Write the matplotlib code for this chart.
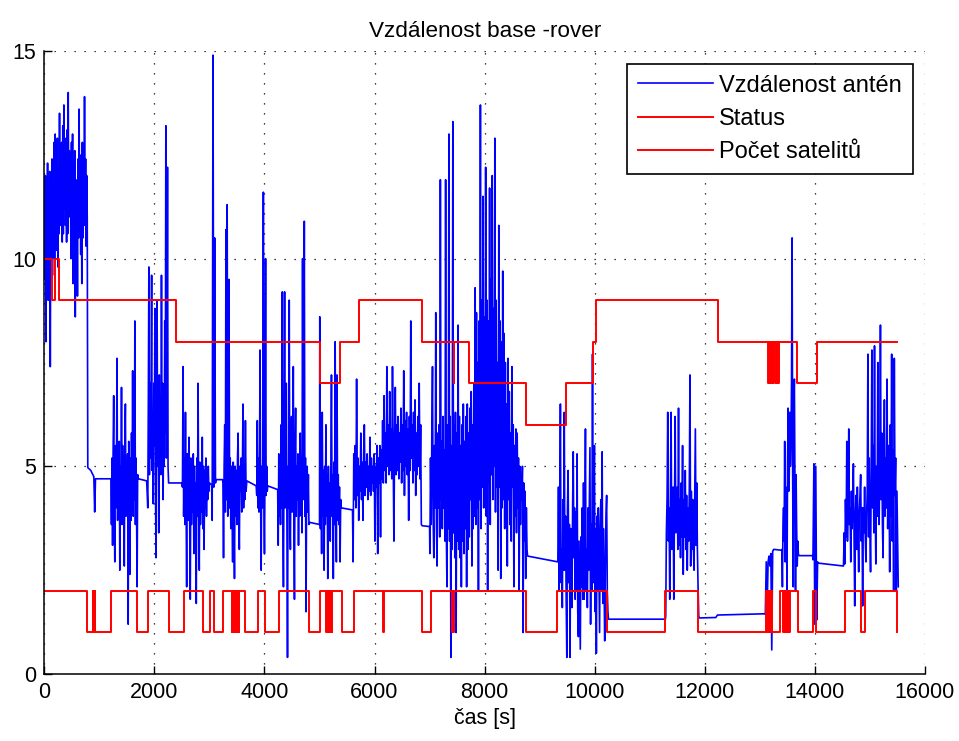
import numpy as np
import matplotlib
matplotlib.use("Agg")
import matplotlib.pyplot as plt

# ---------------------------------------------------------------------------
# Status (2 = fix, 1 = float): value holds from each time until the next one
status_t = [0, 781, 880, 886, 918, 925, 1212, 1685, 1876, 2270,
            2534, 2890, 3014, 3075, 3255, 3410, 3418, 3440, 3448, 3462,
            3470, 3500, 3508, 3530, 3538, 3655, 3879, 4018, 4255, 4806,
            5000, 5121, 5128, 5150, 5158, 5170, 5178, 5195, 5203, 5225,
            5233, 5412, 5618, 6160, 6168, 6867, 7030, 7412, 7418, 7430,
            7436, 8745, 9321, 10224, 11285, 11879, 13121, 13129, 13137, 13145,
            13153, 13161, 13169, 13177, 13185, 13193, 13201, 13209, 13217, 13225,
            13364, 13424, 13432, 13440, 13448, 13456, 13464, 13472, 13480, 13488,
            13496, 13504, 13512, 13520, 13528, 13536, 13544, 13697, 13970, 14012,
            14545, 14830, 14909, 15497, 15500]
status_v = [2, 1, 2, 1, 2, 1, 2, 1, 2, 1,
            2, 1, 2, 1, 2, 1, 2, 1, 2, 1,
            2, 1, 2, 1, 2, 1, 2, 1, 2, 1,
            2, 1, 2, 1, 2, 1, 2, 1, 2, 1,
            2, 1, 2, 1, 2, 1, 2, 1, 2, 1,
            2, 1, 2, 1, 2, 1, 2, 1, 2, 1,
            2, 1, 2, 1, 2, 1, 2, 1, 2, 1,
            2, 1, 2, 1, 2, 1, 2, 1, 2, 1,
            2, 1, 2, 1, 2, 1, 2, 1, 2, 1,
            2, 1, 2, 1, 1]

# Number of satellites, same step convention
sat_t = [0, 135, 197, 270, 2398, 5000, 5364, 5715, 6867, 7442,
         7450, 7715, 8745, 9485, 9964, 10024, 12236, 13152, 13160, 13168,
         13176, 13184, 13192, 13200, 13208, 13216, 13224, 13232, 13240, 13248,
         13256, 13290, 13298, 13306, 13314, 13322, 13330, 13338, 13346, 13679,
         14030, 15500]
sat_v = [10, 9, 10, 9, 8, 7, 8, 9, 8, 7,
         8, 7, 6, 7, 8, 9, 8, 7, 8, 7,
         8, 7, 8, 7, 8, 7, 8, 7, 8, 7,
         8, 7, 8, 7, 8, 7, 8, 7, 8, 7,
         8, 8]

# Antenna distance: noisy stretches (~10 s apart)
burst_0000 = [11.5, 9.5, 12.0, 8.0, 11.8, 10.2, 12.3, 9.0, 11.6, 10.0,
              12.1, 7.4, 11.5, 9.9, 12.4, 9.6, 12.0, 10.3, 12.8, 10.0,
              13.0, 10.5, 12.4, 10.2, 12.9, 9.8, 12.2, 10.6, 13.5, 10.8,
              12.5, 11.0, 12.8, 10.4, 13.2, 10.6, 13.7, 11.2, 12.9, 10.8,
              12.6, 10.4, 13.1, 10.6, 14.0, 11.0, 12.6, 11.5, 12.4, 10.0,
              12.8, 10.6, 13.0, 9.4, 12.3, 10.2, 12.6, 8.6, 11.9, 10.0,
              11.8, 9.1, 12.4, 10.5, 13.6, 10.8, 12.0, 10.1, 12.5, 9.4,
              12.8, 10.5, 12.2, 10.8, 13.9, 11.0, 12.4, 10.3, 12.0, 11.0]
burst_1210 = [4.7, 3.6, 5.2, 3.1, 5.4, 6.7, 3.8, 2.7, 5.5, 4.0,
              5.2, 7.6, 3.7, 5.3, 4.2, 5.6, 2.5, 5.0, 3.8, 6.9,
              3.6, 5.5, 4.1, 5.2, 2.6, 5.6, 6.5, 3.8, 5.1, 4.0,
              5.3, 1.2, 5.6, 3.9, 2.4, 5.2, 3.7, 5.8, 4.0, 7.3,
              3.8, 5.4, 4.2, 8.5, 3.6, 5.2, 4.0, 2.1, 4.8]
burst_1880 = [4.0, 6.5, 9.8, 4.8, 7.0, 5.2, 6.8, 9.6, 4.9, 6.2,
              4.1, 7.0, 5.5, 8.8, 4.6, 2.8, 6.8, 9.0, 5.0, 6.5,
              3.4, 7.2, 5.3, 6.6, 4.8, 9.6, 5.5, 7.0, 4.2, 6.4,
              5.0, 8.5, 5.8, 13.2, 5.2, 7.0, 12.2, 5.0, 4.6]
burst_2510 = [4.5, 7.4, 3.8, 5.2, 3.6, 6.3, 4.0, 2.1, 5.3, 3.7,
              5.0, 5.7, 3.8, 1.8, 5.2, 3.6, 4.9, 3.9, 5.3, 2.9,
              5.0, 3.7, 4.6, 1.7, 5.2, 3.8, 7.0, 4.0, 2.5, 5.1,
              3.6, 4.8, 3.9, 5.7, 3.5, 5.0, 3.0, 4.9, 4.0, 5.2,
              3.8, 4.9, 4.2, 5.0, 4.4]
burst_3245 = [4.6, 2.8, 5.0, 6.0, 3.9, 10.7, 4.2, 11.3, 3.8, 5.0,
              9.5, 4.0, 5.2, 3.5, 5.0, 4.0, 2.7, 5.1, 3.9, 2.3,
              5.0, 3.8, 4.9, 3.6, 5.2, 5.8, 4.0, 3.0, 5.0, 4.4,
              5.2, 3.9, 4.8, 6.5, 4.0, 5.0, 4.2, 6.1, 4.4]
burst_3860 = [4.3, 6.1, 4.0, 5.2, 3.9, 5.0, 7.8, 4.2, 2.5, 5.0,
              4.0, 5.2, 11.6, 4.2, 2.9, 5.0, 10.0, 4.3, 5.0, 4.4]
burst_4250 = [3.1, 5.3, 3.8, 5.0, 3.6, 6.0, 4.0, 9.2, 3.8, 2.1,
              5.2, 9.2, 4.0, 5.5, 7.0, 3.6, 0.4, 5.0, 4.0, 9.0,
              3.8, 3.0, 5.2, 6.2, 3.9, 5.0, 7.4, 3.6, 1.8, 5.2,
              6.4, 3.8, 5.0, 4.2, 5.3, 3.1, 5.1, 3.8, 5.8, 4.0,
              5.2, 3.4, 10.0, 4.2, 5.0, 10.9, 3.8, 5.2, 1.5, 4.6,
              5.0, 3.9, 4.8, 3.6]
burst_5005 = [8.6, 3.5, 5.0, 2.9, 6.3, 3.8, 4.9, 2.5, 5.0, 3.6,
              6.0, 3.8, 4.8, 2.3, 5.0, 3.6, 4.6, 3.2, 5.0, 7.2,
              3.8, 4.8, 2.3, 5.1, 3.6, 8.0, 4.0, 2.7, 7.2, 3.7,
              4.8, 3.6, 4.5, 2.7, 4.2]
burst_5610 = [2.7, 5.3, 4.2, 5.5, 4.0, 7.1, 4.3, 5.2, 3.7, 5.0,
              4.4, 5.8, 4.2, 5.1, 3.7, 5.3, 6.0, 4.3, 5.1, 4.5,
              5.3, 4.2, 5.0, 4.4, 5.7, 4.3, 5.2, 4.6, 5.0, 4.4,
              5.3, 3.2, 5.0, 4.5, 5.5, 2.9, 5.2, 4.6, 5.5, 3.3,
              5.4, 4.7, 6.1, 4.6, 6.7, 4.9, 5.8, 4.6, 7.4, 5.0,
              6.0, 4.8, 6.8, 4.9, 5.9, 4.7, 7.4, 5.2, 3.2, 5.6,
              6.9, 4.8, 6.0, 4.9, 6.2, 4.7, 5.8, 5.1, 6.4, 4.6,
              6.0, 4.9, 7.3, 4.3, 6.1, 5.0, 6.3, 4.8, 5.9, 3.7,
              6.2, 4.9, 8.5, 5.2, 6.0, 4.6, 6.3, 4.9, 6.6, 4.3,
              5.8, 4.8, 6.2, 5.0, 7.0, 4.7, 6.0, 3.6]
burst_7005 = [2.9, 5.2, 3.6, 5.8, 7.4, 3.8, 2.8, 5.5, 4.0, 8.7,
              3.6, 2.6, 5.8, 4.0, 6.0, 3.3, 11.9, 4.2, 5.6, 3.5,
              6.2, 4.0, 5.4, 3.2, 11.9, 3.6, 2.1, 6.0, 3.5, 13.0,
              3.2, 6.2, 0.4, 5.5, 3.0, 13.3, 3.4, 6.0, 2.8, 6.3,
              1.0, 5.8, 3.2, 8.4, 3.0, 6.2, 2.8, 5.5, 2.1, 6.0,
              3.2, 6.5, 2.9, 5.6, 3.5, 6.2, 2.1, 6.5, 3.0, 5.8,
              3.3, 6.4, 4.2, 6.8, 2.6, 6.0, 3.5, 7.0, 3.8, 9.3,
              3.6, 8.7, 4.0, 7.5, 2.0, 8.5, 4.2, 13.7, 3.5, 9.0,
              4.5, 11.5, 4.0, 8.6, 4.4, 12.2, 3.8, 9.0, 2.0, 8.5,
              4.6, 11.7, 3.6, 9.5, 4.8, 12.0, 4.2, 8.8, 5.0, 12.9,
              3.9, 9.0, 4.5, 7.5, 2.5, 10.8, 4.5, 8.5, 2.3, 8.0,
              4.0, 9.7, 4.2, 8.2, 3.5, 7.5, 4.0, 6.5, 2.6, 7.6,
              4.2, 6.8, 3.6, 5.8, 3.2, 7.4, 4.5, 6.0, 2.1, 5.5,
              3.8, 5.9, 3.4, 5.8, 4.0, 5.2, 2.0, 5.0, 3.6, 4.8,
              4.2, 5.0, 1.0, 4.6, 3.2, 4.4, 2.3, 4.0, 3.0]
burst_9330 = [2.7, 4.5, 2.0, 3.8, 6.5, 2.2, 3.0, 1.6, 4.2, 2.5,
              6.3, 2.5, 3.8, 1.8, 0.4, 4.0, 4.9, 2.2, 3.6, 0.4,
              3.5, 2.0, 1.6, 4.0, 5.35, 2.8, 4.0, 1.8, 3.9, 2.0,
              5.3, 1.5, 0.9, 3.2, 2.0, 0.6, 3.3, 2.1, 4.0, 1.8,
              4.6, 1.8, 3.6, 5.9, 2.0, 3.0, 1.6, 4.0, 2.5, 3.9,
              5.45, 1.2, 3.6, 2.0, 7.7, 2.2, 4.2, 5.5, 1.5, 3.5,
              0.5, 3.8, 2.0, 4.0, 2.5, 1.0, 3.6, 4.2, 2.0, 5.35,
              1.7, 3.5, 2.2, 0.8, 2.6, 3.8, 4.3, 2.0, 1.5]
burst_11290 = [1.4, 3.4, 4.2, 6.3, 3.2, 4.0, 1.8, 4.4, 6.3, 3.0,
               3.2, 4.5, 1.8, 4.0, 6.2, 3.4, 3.6, 4.5, 3.0, 6.4,
               3.1, 4.2, 2.8, 4.6, 3.3, 5.5, 2.4, 4.2, 3.3, 4.9,
               3.0, 4.3, 2.5, 4.0, 3.2, 4.4, 7.2, 2.6, 4.4, 3.0,
               4.2, 3.1, 2.5, 4.3, 5.9, 3.1, 4.6, 3.0, 2.1, 1.4]
burst_13100 = [1.44, 2.7, 1.6, 2.7, 2.84, 2.6, 2.9, 0.58, 2.95, 3.0]
burst_13400 = [3.0, 2.1, 3.6, 4.0, 3.2, 5.6, 2.7, 4.5, 3.8, 2.0,
               5.0, 6.4, 4.4, 4.8, 6.3, 5.0, 5.5, 7.0, 10.5, 4.8,
               2.1, 6.5, 7.1, 4.5, 2.0, 4.8, 3.5, 2.6, 3.2, 2.9]
burst_13965 = [2.75, 5.06, 1.2, 5.0, 1.3, 2.7]
burst_14520 = [2.6, 3.4, 2.65, 4.2, 3.3, 5.6, 3.2, 4.3, 5.9, 3.6,
               4.0, 2.7, 4.4, 3.5, 4.2, 5.06, 3.4, 1.64, 3.8, 4.3,
               3.0, 4.5, 3.4, 2.46, 3.9, 4.3, 4.8, 3.2, 4.0, 1.64,
               4.0, 3.4, 4.5, 3.3, 2.7, 3.8, 4.4, 7.7, 3.3, 5.2,
               3.6, 2.46, 4.8, 7.8, 4.0, 5.5, 3.4, 7.9, 4.2, 2.65,
               5.0, 3.8, 7.5, 4.0, 3.6, 5.2, 8.4, 4.2, 5.8, 3.6,
               2.8, 5.0, 6.6, 3.8, 5.2, 4.0, 7.1, 3.5, 5.5, 4.8,
               2.46, 6.0, 3.8, 7.7, 3.2, 5.4, 2.0, 7.6, 4.3, 5.2,
               2.0, 4.4, 3.2, 2.1]

# (start s, end s, values) in time order; short lists are the quiet holds
dist_pieces = [
    (0, 780, burst_0000),
    (790, 900, [4.97, 4.9, 4.75]),
    (915, 930, [3.9, 4.7]),
    (940, 1200, [4.7, 4.7]),
    (1210, 1696, burst_1210),
    (1710, 1860, [4.7, 4.65]),
    (1880, 2258, burst_1880),
    (2275, 2500, [4.6, 4.6]),
    (2510, 2990, burst_2510),
    (3000, 3040, [4.6, 4.55]),
    (3050, 3110, [3.7, 14.9, 4.5, 10.5, 4.6]),
    (3120, 3240, [4.68, 4.68]),
    (3245, 3665, burst_3245),
    (3680, 3850, [4.65, 4.53]),
    (3860, 4050, burst_3860),
    (4060, 4240, [4.53, 4.44]),
    (4250, 4808, burst_4250),
    (4825, 5000, [3.65, 3.6]),
    (5005, 5385, burst_5005),
    (5395, 5600, [4.0, 3.95]),
    (5610, 6850, burst_5610),
    (6865, 7000, [3.57, 3.55]),
    (7005, 8770, burst_7005),
    (8780, 9320, [2.84, 2.7]),
    (9330, 10240, burst_9330),
    (10250, 11285, [1.32, 1.32]),
    (11290, 11890, burst_11290),
    (11900, 12200, [1.35, 1.36]),
    (12230, 13090, [1.42, 1.45]),
    (13100, 13250, burst_13100),
    (13260, 13390, [3.0, 2.98]),
    (13400, 13700, burst_13400),
    (13710, 13960, [2.85, 2.85]),
    (13965, 14050, burst_13965),
    (14060, 14515, [2.67, 2.6]),
    (14520, 15515, burst_14520),
]

dist_t = np.concatenate([np.linspace(a, b, len(v)) for a, b, v in dist_pieces])
dist_v = np.concatenate([np.asarray(v, float) for a, b, v in dist_pieces])

plt.rcParams["font.family"] = ["Liberation Sans", "DejaVu Sans"]
plt.rcParams["font.size"] = 15.5

fig = plt.figure(figsize=(9.59, 7.41), dpi=100)
ax = fig.add_axes([0.0462, 0.0904, 0.9183, 0.8408])

ax.plot(dist_t, dist_v, color="#0000ff", lw=1.2, label="Vzdálenost antén")
ax.step(status_t, status_v, where="post", color="#ff0000", lw=1.4, label="Status")
ax.step(sat_t, sat_v, where="post", color="#ff0000", lw=1.4, label="Počet satelitů")

ax.set_xlim(0, 16000)
ax.set_ylim(0, 15)
ax.set_xticks(np.arange(0, 16001, 2000))
ax.set_yticks([0, 5, 10, 15])
ax.grid(True, color="black", linestyle=(0, (1, 7)), linewidth=0.9)
ax.tick_params(direction="in", length=6, width=1, pad=6, colors="black")
for side in ("top", "right"):
    ax.spines[side].set_visible(False)
for side in ("left", "bottom"):
    ax.spines[side].set_linewidth(1.1)

ax.set_title("Vzdálenost base -rover", fontsize=16.2, pad=10)
ax.set_xlabel("čas [s]", labelpad=3)

leg = ax.legend(loc="upper right", bbox_to_anchor=(0.986, 0.979), borderaxespad=0,
                fancybox=False, framealpha=1, edgecolor="black", fontsize=17,
                handlelength=3.2, handletextpad=0.25, labelspacing=0.48,
                borderpad=0.45)
leg.get_frame().set_linewidth(1.2)

fig.savefig("out.png", dpi=100)
